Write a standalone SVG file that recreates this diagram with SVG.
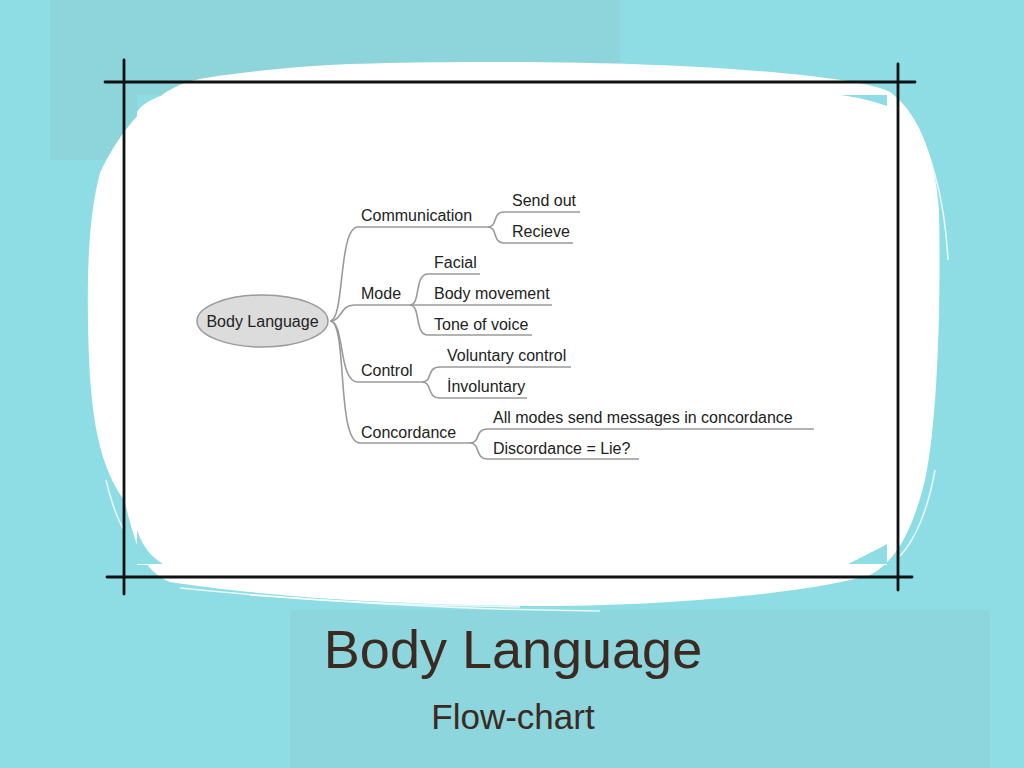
<svg xmlns="http://www.w3.org/2000/svg" width="1024" height="768" viewBox="0 0 1024 768">
<style>
.t{font-family:"Liberation Sans",Arial,sans-serif;font-size:16px;fill:#222}
.c{fill:none;stroke:#9a9a9a;stroke-width:1.6}
.f{stroke:#111;stroke-width:2.8;stroke-linecap:round}
.ttl{font-family:"Liberation Sans",Arial,sans-serif;fill:#3a2a22;text-anchor:middle}
.s{fill:none;stroke:#fff;stroke-width:1.5;opacity:0.8}
</style>
<rect width="1024" height="768" fill="#8fdde4"/>
<rect x="50" y="0" width="570" height="160" fill="#8ac6cc" opacity="0.35"/>
<rect x="290" y="610" width="700" height="158" fill="#8ac6cc" opacity="0.3"/>
<path d="M 100,173 C 90,210 87,260 88,320 C 89,400 95,460 124,500 C 135,540 140,570 170,582 C 260,596 400,606 560,606 C 700,604 820,590 870,575 C 900,560 915,520 925,480 C 938,420 941,300 939,210 C 935,150 915,110 890,92 C 860,76 700,62 500,62 C 400,62 330,64 300,67 C 240,72 200,78 187,82 C 150,95 120,130 100,173 Z" fill="#fff"/>
<path class="s" d="M 180,588 C 300,600 450,610 600,611"/>
<path class="s" d="M 250,595 C 350,603 450,606 520,607"/>
<path class="s" d="M 905,110 C 930,140 945,200 948,260"/>
<path class="s" d="M 935,470 C 928,510 915,540 900,556"/>
<path class="s" d="M 106,480 C 112,505 118,520 124,530"/>
<g id="image">
<rect x="137" y="95" width="750" height="470" fill="#fff"/>
<path d="M 137,95 L 163,95 C 150,100 142,104 137,112 Z" fill="#8fdde4"/>
<path d="M 840,95 L 887,95 L 887,106 C 870,100 855,97 840,95 Z" fill="#8fdde4"/>
<path d="M 137,530 C 142,545 150,556 163,564 L 137,564 Z" fill="#8fdde4"/>
<path d="M 887,544 C 872,552 860,558 848,564 L 887,564 Z" fill="#8fdde4"/>
</g>
<g id="frame">
<line class="f" x1="105" y1="82" x2="915" y2="82"/>
<line class="f" x1="124" y1="60" x2="124" y2="594"/>
<line class="f" x1="107" y1="577" x2="912" y2="577"/>
<line class="f" x1="898" y1="64" x2="898" y2="590"/>
</g>
<g id="connectors">
<path class="c" d="M 330,321 C 345,321 338,227 358,227 L 488,227"/>
<path class="c" d="M 330,321 C 342,321 340,305 354,305 L 410,305"/>
<path class="c" d="M 330,321 C 345,321 338,382 358,382 L 422,382"/>
<path class="c" d="M 330,321 C 348,321 336,443 360,443 L 470,443"/>
<path class="c" d="M 488,227 C 498,227 492,212 504,212 L 580,212"/>
<path class="c" d="M 488,227 C 498,227 492,243 504,243 L 573,243"/>
<path class="c" d="M 410,305 C 421,305 414,274 428,274 L 480,274"/>
<path class="c" d="M 410,305 L 552,305"/>
<path class="c" d="M 410,305 C 421,305 414,335 428,335 L 532,335"/>
<path class="c" d="M 422,382 C 433,382 426,367 440,367 L 571,367"/>
<path class="c" d="M 422,382 C 433,382 426,398 440,398 L 527,398"/>
<path class="c" d="M 470,443 C 481,443 474,429 488,429 L 814,429"/>
<path class="c" d="M 470,443 C 481,443 474,459 488,459 L 639,459"/>
</g>
<g id="root">
<ellipse cx="262.5" cy="321" rx="65.5" ry="26" fill="#dcdcdc" stroke="#9a9a9a" stroke-width="1.5"/>
<text class="t" x="262.5" y="327" text-anchor="middle">Body Language</text>
</g>
<g id="communication"><text class="t" x="361" y="221">Communication</text></g>
<g id="send-out"><text class="t" x="512" y="206">Send out</text></g>
<g id="recieve"><text class="t" x="512" y="237">Recieve</text></g>
<g id="mode"><text class="t" x="361" y="299">Mode</text></g>
<g id="facial"><text class="t" x="434" y="268">Facial</text></g>
<g id="body-movement"><text class="t" x="434" y="299">Body movement</text></g>
<g id="tone-of-voice"><text class="t" x="434" y="330">Tone of voice</text></g>
<g id="control"><text class="t" x="361" y="376">Control</text></g>
<g id="voluntary"><text class="t" x="447" y="361">Voluntary control</text></g>
<g id="involuntary"><text class="t" x="447" y="392">İnvoluntary</text></g>
<g id="concordance"><text class="t" x="361" y="438">Concordance</text></g>
<g id="all-modes"><text class="t" x="493" y="423">All modes send messages in concordance</text></g>
<g id="discordance"><text class="t" x="493" y="454">Discordance = Lie?</text></g>
<text class="ttl" x="513" y="668" style="font-size:54px">Body Language</text>
<text class="ttl" x="513" y="729" style="font-size:35px">Flow-chart</text>
</svg>
